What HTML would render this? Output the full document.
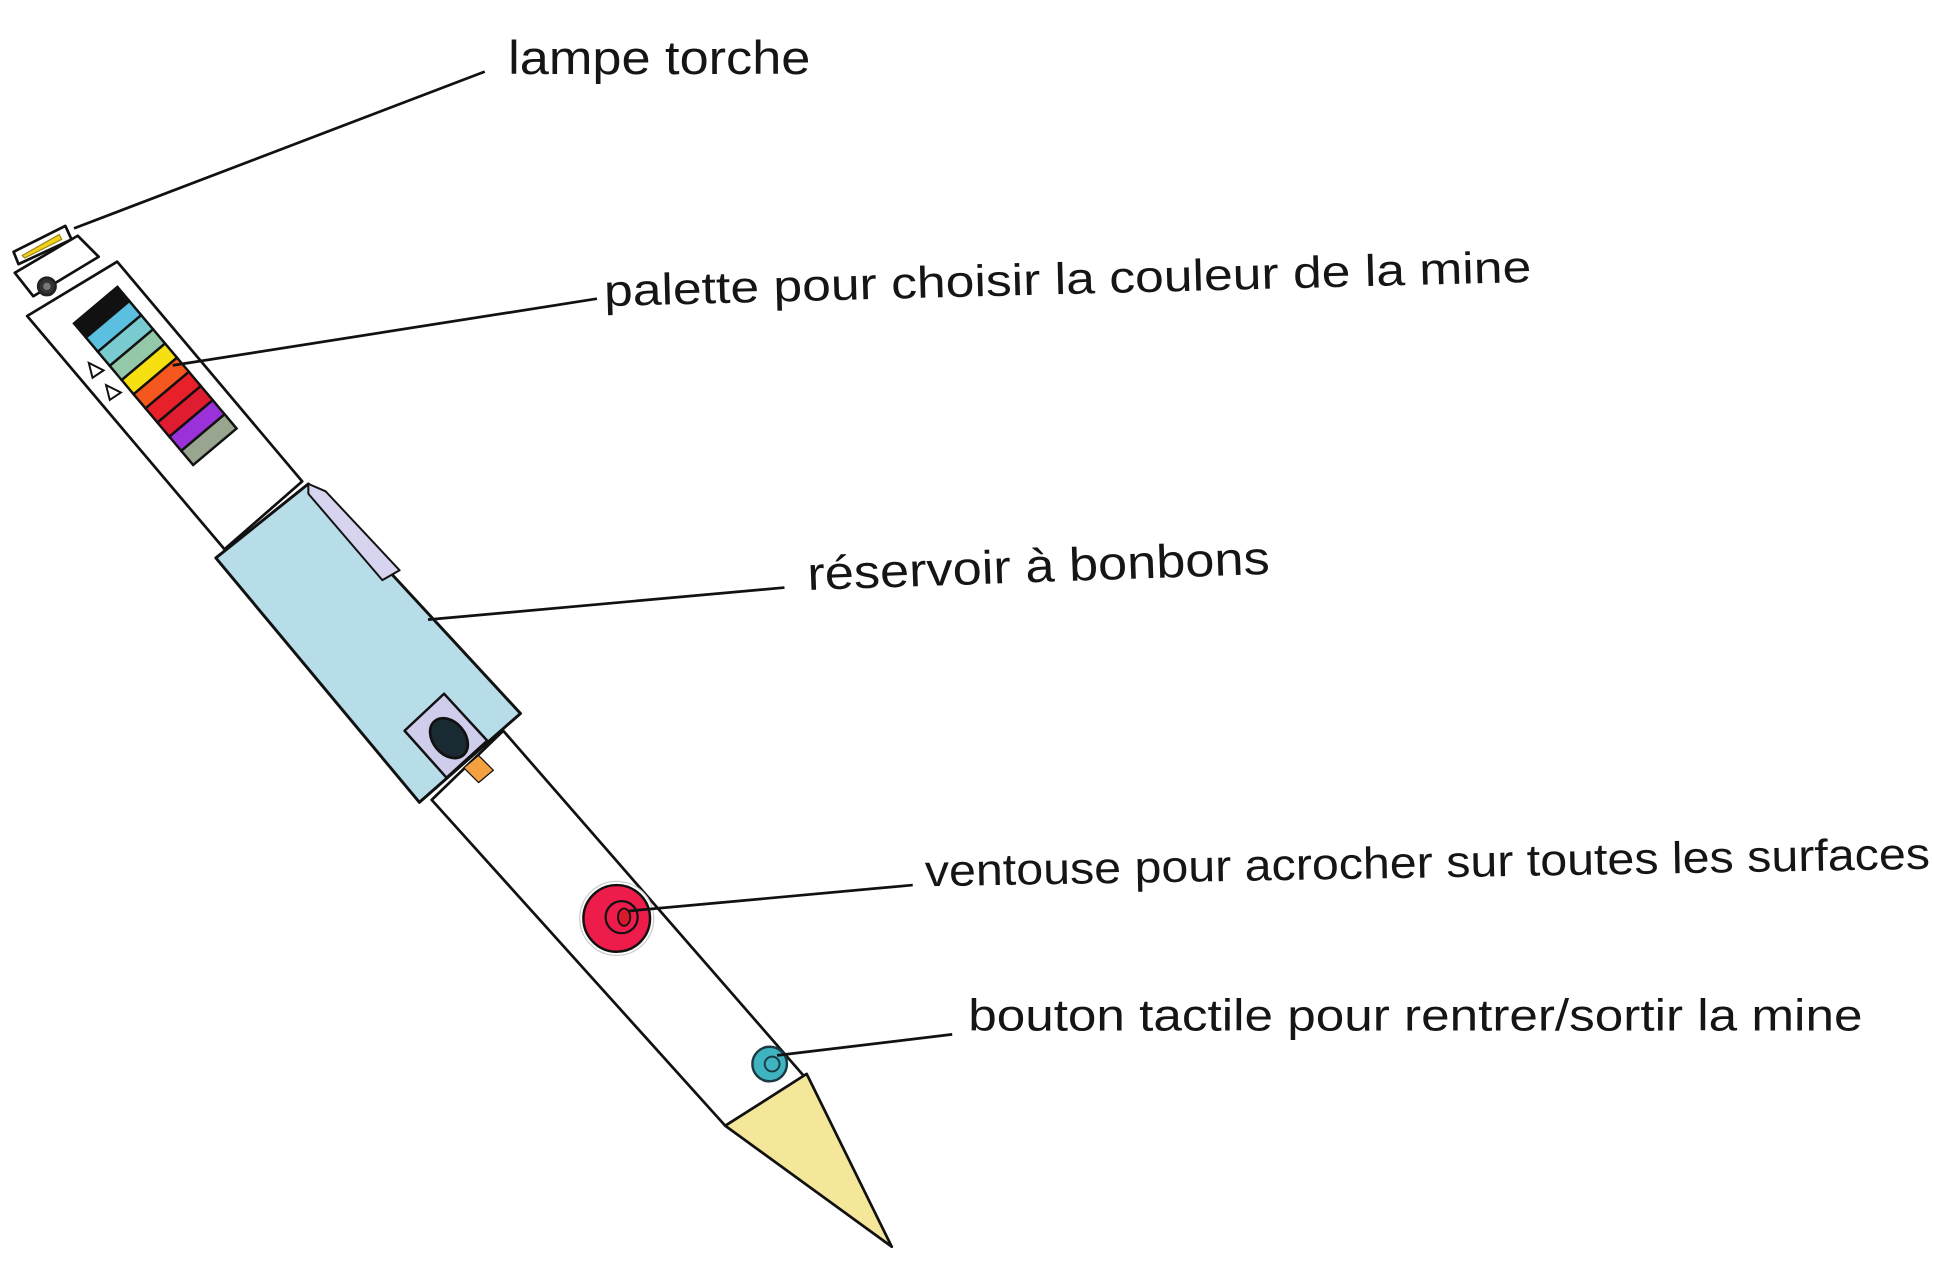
<!DOCTYPE html>
<html><head><meta charset="utf-8"><style>
html,body{margin:0;padding:0;background:#fff;}
svg{display:block;}
text{font-family:"Liberation Sans",sans-serif;fill:#151515;font-weight:normal;}
</style></head><body>
<svg width="1934" height="1264" viewBox="0 0 1568 1024" preserveAspectRatio="none" xmlns="http://www.w3.org/2000/svg">
<rect width="1568" height="1024" fill="#fff"/>
<g stroke="#111" stroke-width="2.2" stroke-linejoin="round" fill="none">
<!-- lamp -->
<polygon points="11,204 53,183 58,194 15,214" fill="#fff"/>
<polygon points="18,207 48,190 50,194 20,209" fill="#f2d21c" stroke="#a08a10" stroke-width="1"/>
<!-- cap -->
<polygon points="12,221 63,191 80,208 27,240" fill="#fff"/>
<circle cx="38" cy="232" r="7" fill="#333" stroke="#222"/>
<circle cx="38" cy="232" r="3" fill="#777" stroke="none"/>
<!-- upper body -->
<polygon points="22,256 95,212 245,390 182,445" fill="#fff"/>
<!-- lower body -->
<polygon points="350,648 408,592 652,872 588,912" fill="#fff"/>
<!-- tip -->
<polygon points="588,912 654,870 723,1010" fill="#f5e79a"/>
<!-- reservoir -->
<polygon points="175,452 250,392 422,578 340,650" fill="#b7dde8" stroke-width="2.4"/>
<polygon points="250,392 264,398 324,462 310,470 250,400" fill="#d6d4ee" stroke-width="1.6"/>
<polygon points="328,592 360,562 395,600 362,630" fill="#cfcdec" stroke-width="2"/>
<ellipse cx="364" cy="598" rx="13" ry="18" transform="rotate(-40 364 598)" fill="#1a2a33"/>
<polygon points="376,622 388,612 400,624 388,634" fill="#f3a040" stroke-width="1"/>
</g>
<!-- palette -->
<g transform="translate(60,262) rotate(49.9)" stroke="#111" stroke-width="2">
<rect x="0" y="-46" width="15" height="46" fill="#111"/>
<rect x="15" y="-46" width="15" height="46" fill="#5bbfe0"/>
<rect x="30" y="-46" width="15" height="46" fill="#79cbcf"/>
<rect x="45" y="-46" width="15" height="46" fill="#93c9a8"/>
<rect x="60" y="-46" width="15" height="46" fill="#f7e012"/>
<rect x="75" y="-46" width="15" height="46" fill="#f5571e"/>
<rect x="90" y="-46" width="15" height="46" fill="#e8202a"/>
<rect x="105" y="-46" width="15" height="46" fill="#e01c30"/>
<rect x="120" y="-46" width="15" height="46" fill="#9b31d8"/>
<rect x="135" y="-46" width="15" height="46" fill="#98a68f"/>
</g>
<g stroke="#111" stroke-width="1.6" fill="none">
<polygon points="72,294 84,300 75,306"/>
<polygon points="86,312 98,318 89,324"/>
</g>
<!-- ventouse -->
<circle cx="500" cy="744" r="30" fill="#fff" stroke="#ccc" stroke-width="1"/>
<circle cx="500" cy="744" r="27" fill="#ee1c4a" stroke="#111" stroke-width="2"/>
<circle cx="504" cy="743" r="13" fill="none" stroke="#111" stroke-width="1.8"/>
<ellipse cx="506" cy="743" rx="5" ry="7" fill="#d61a2a" stroke="#111" stroke-width="1.5"/>
<!-- bouton -->
<circle cx="624" cy="862" r="14" fill="#3fb4c0" stroke="#1a3a44" stroke-width="2"/>
<circle cx="626" cy="862" r="6" fill="none" stroke="#1a3a44" stroke-width="1.6"/>
<!-- leader lines -->
<g stroke="#111" stroke-width="2.2" fill="none">
<line x1="60" y1="185" x2="393" y2="58"/>
<line x1="140" y1="296" x2="484" y2="242"/>
<line x1="347" y1="502" x2="636" y2="476"/>
<line x1="510" y1="738" x2="740" y2="717"/>
<line x1="630" y1="855" x2="772" y2="838"/>
</g>
<!-- labels -->
<text x="412" y="60" font-size="38" textLength="245" lengthAdjust="spacingAndGlyphs">lampe torche</text>
<text x="490" y="248" font-size="36" textLength="752" lengthAdjust="spacingAndGlyphs" transform="rotate(-1.5 490 248)">palette pour choisir la couleur de la mine</text>
<text x="655" y="478" font-size="38" textLength="375" lengthAdjust="spacingAndGlyphs" transform="rotate(-2 655 478)">réservoir à bonbons</text>
<text x="750" y="718" font-size="36" textLength="815" lengthAdjust="spacingAndGlyphs" transform="rotate(-1 750 718)">ventouse pour acrocher sur toutes les surfaces</text>
<text x="785" y="835" font-size="36" textLength="725" lengthAdjust="spacingAndGlyphs">bouton tactile pour rentrer/sortir la mine</text>
</svg>
</body></html>
